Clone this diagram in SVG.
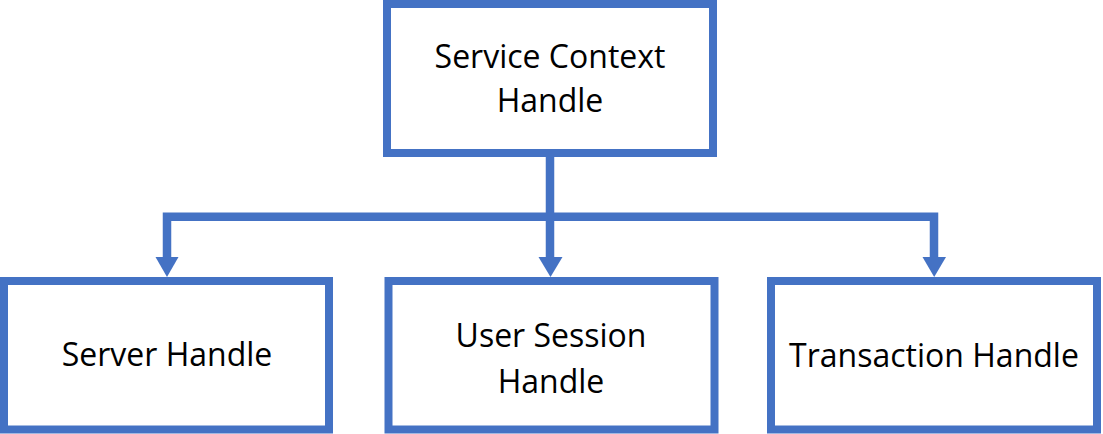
<svg xmlns="http://www.w3.org/2000/svg" width="1103" height="434" viewBox="0 0 1103 434">
<style>
.box{fill:#FFFFFF;stroke:#4472C4;stroke-width:8}
.conn{fill:none;stroke:#4472C4;stroke-width:8.5;stroke-linejoin:miter;stroke-linecap:butt}
.head{fill:#4472C4}
.lbl{font-family:"Open Sans","Liberation Sans",sans-serif;font-size:32px;fill:#000000;text-anchor:middle}
</style>
<rect width="1103" height="434" fill="#FFFFFF"/>
<g id="connectors">
<path class="conn" d="M550,153 V257"/>
<path class="conn" d="M167,257 V216.8 H934 V257"/>
<polygon class="head" points="538.5,257 562.5,257 550.5,277"/>
<polygon class="head" points="155.5,257 178.5,257 167,277"/>
<polygon class="head" points="922.5,257 946,257 934.2,277"/>
</g>
<g id="node-service-context">
<rect class="box" x="387" y="4" width="326" height="149"/>
<text class="lbl" x="550" y="68">Service Context</text>
<text class="lbl" x="550" y="112">Handle</text>
</g>
<g id="node-server">
<rect class="box" x="4" y="281" width="325" height="148.5"/>
<text class="lbl" x="167" y="366">Server Handle</text>
</g>
<g id="node-user-session">
<rect class="box" x="388.5" y="281" width="326" height="148.5"/>
<text class="lbl" x="551" y="347">User Session</text>
<text class="lbl" x="551" y="393">Handle</text>
</g>
<g id="node-transaction">
<rect class="box" x="771" y="281" width="326" height="148.5"/>
<text class="lbl" x="934" y="367">Transaction Handle</text>
</g>
</svg>
